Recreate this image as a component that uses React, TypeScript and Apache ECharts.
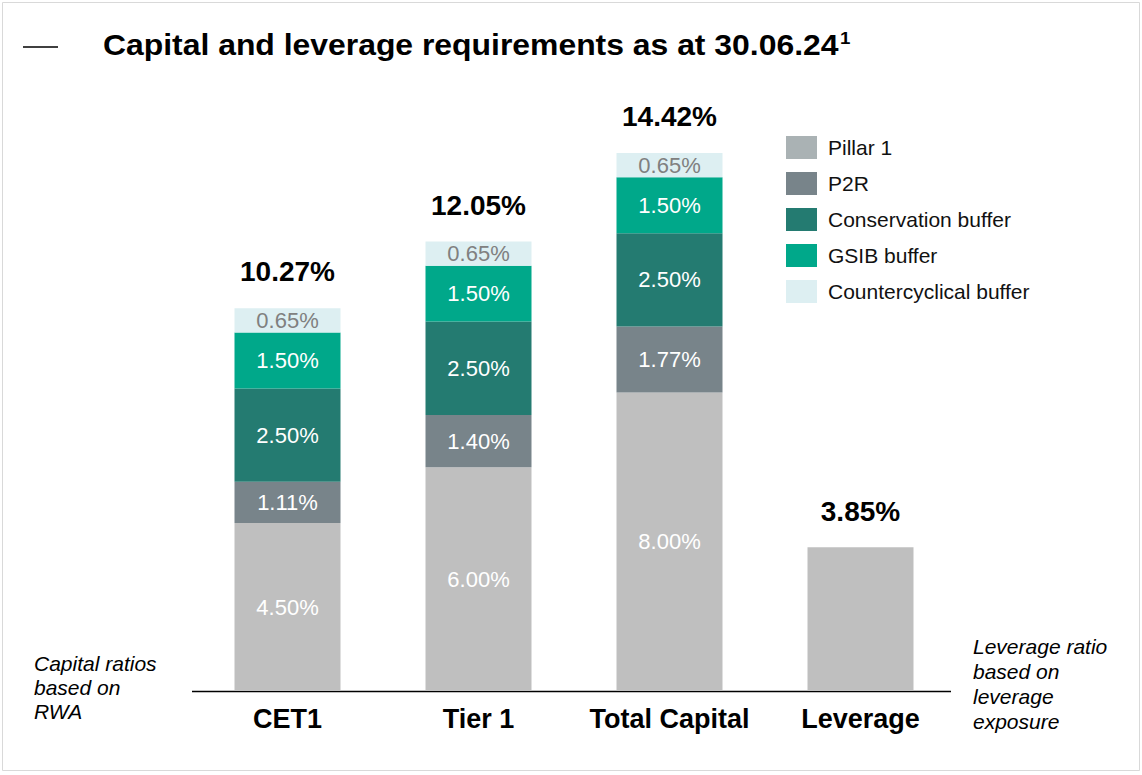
import React, { useEffect, useRef } from "react";
import * as echarts from "echarts";

const categories = ["CET1", "Tier 1", "Total Capital", "Leverage"];
const pillar1 = [4.5, 6.0, 8.0, 3.85];
const p2r = [1.11, 1.4, 1.77, 0];
const conservation = [2.5, 2.5, 2.5, 0];
const gsib = [1.5, 1.5, 1.5, 0];
const countercyclical = [0.65, 0.65, 0.65, 0];
const totals = [10.27, 12.05, 14.42, 3.85];
const totalLabels = ["10.27%", "12.05%", "14.42%", "3.85%"];

const FONT = "'Liberation Sans', Arial, Helvetica, sans-serif";

export default function App() {
  const ref = useRef<HTMLDivElement>(null);
  useEffect(() => {
    document.body.style.margin = "0";
    if (!ref.current) return;
    const chart = echarts.init(ref.current, null, { renderer: "svg" });
    const mk = (name: string, data: number[], color: string, labelColor: string, hideLeverage = true) => ({
      name,
      type: "bar",
      stack: "total",
      barWidth: 106,
      data: data.map((v, i) => ({
        value: v === 0 ? null : v,
        label: { show: !(hideLeverage && i === 3) && v !== 0 },
      })),
      itemStyle: { color },
      label: {
        show: true,
        position: "inside",
        color: labelColor,
        fontSize: 22,
        fontFamily: FONT,
        formatter: (p: any) => Number(p.value).toFixed(2) + "%",
      },
    });
    chart.setOption({
      animation: false,
      textStyle: { fontFamily: FONT },
      grid: { left: 192, width: 764, top: 94, bottom: 84, containLabel: false },
      xAxis: {
        type: "category",
        data: categories,
        axisLine: { show: false },
        axisTick: { show: false },
        axisLabel: { interval: 0, hideOverlap: false, fontSize: 27, fontWeight: "bold", color: "#000", margin: 14, fontFamily: FONT },
      },
      yAxis: { type: "value", min: 0, max: 16, show: false },
      legend: {
        orient: "vertical",
        left: 781,
        top: 131,
        itemWidth: 31,
        itemHeight: 23,
        itemGap: 13,
        icon: "rect",
        selectedMode: false,
        textStyle: { fontSize: 21, color: "#111", fontFamily: FONT, padding: [0, 0, 0, 6] },
        data: [
          { name: "Pillar 1", itemStyle: { color: "#AAB2B4" } },
          { name: "P2R" },
          { name: "Conservation buffer" },
          { name: "GSIB buffer" },
          { name: "Countercyclical buffer" },
        ],
      },
      series: [
        mk("Pillar 1", pillar1, "#BFBFBF", "#FFFFFF"),
        mk("P2R", p2r, "#78848A", "#FFFFFF"),
        mk("Conservation buffer", conservation, "#247B71", "#FFFFFF"),
        mk("GSIB buffer", gsib, "#00A88A", "#FFFFFF"),
        mk("Countercyclical buffer", countercyclical, "#DDEFF2", "#808080"),
        {
          name: "totals",
          type: "scatter",
          symbolSize: 0,
          data: totals,
          silent: true,
          itemStyle: { opacity: 1 },
          label: {
            show: true,
            position: "top",
            distance: 22,
            fontSize: 28,
            fontWeight: "bold",
            color: "#000",
            opacity: 1,
            fontFamily: FONT,
            formatter: (p: any) => totalLabels[p.dataIndex],
          },
        },
      ],
      graphic: [
        {
          type: "rect",
          shape: { x: 2.5, y: 2.5, width: 1137, height: 768 },
          style: { fill: "none", stroke: "#D9D9D9", lineWidth: 1 },
          silent: true,
        },
        {
          type: "line",
          shape: { x1: 23, y1: 47, x2: 58, y2: 47 },
          style: { stroke: "#000", lineWidth: 1.5 },
        },
        {
          type: "text",
          x: 103,
          y: 45,
          scaleX: 1.1,
          style: {
            text: "{t|Capital and leverage requirements as at 30.06.24}{s|1}",
            verticalAlign: "middle",
            rich: {
              t: { fontSize: 29, fontWeight: "bold", fill: "#000", fontFamily: FONT },
              s: { fontSize: 17, fontWeight: "bold", fill: "#000", fontFamily: FONT, verticalAlign: "top", padding: [0, 0, 14, 1] },
            },
          },
        },
        {
          type: "line",
          shape: { x1: 192, y1: 691.5, x2: 951, y2: 691.5 },
          style: { stroke: "#000", lineWidth: 1.5 },
        },
        {
          type: "text",
          x: 34,
          y: 651,
          style: {
            text: "Capital ratios\nbased on\nRWA",
            fontSize: 21,
            fontStyle: "italic",
            fill: "#000",
            lineHeight: 24,
            fontFamily: FONT,
          },
        },
        {
          type: "text",
          x: 973,
          y: 634,
          style: {
            text: "Leverage ratio\nbased on\nleverage\nexposure",
            fontSize: 21,
            fontStyle: "italic",
            fill: "#000",
            lineHeight: 25,
            fontFamily: FONT,
          },
        },
      ],
    });
    return () => chart.dispose();
  }, []);
  return <div ref={ref} style={{ width: 1142, height: 775 }} />;
}
